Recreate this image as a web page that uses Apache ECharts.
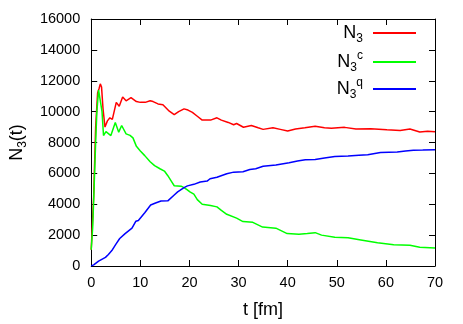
<!DOCTYPE html>
<html>
<head>
<meta charset="utf-8">
<script src="https://cdn.jsdelivr.net/npm/echarts@6/dist/echarts.min.js"></script>
<style>
html,body{margin:0;padding:0;background:#fff;}
#c{width:463px;height:324px;}
</style>
</head>
<body>
<div id="c"></div>
<script>
// ---- data ----
const tRed = [0,0.5,0.9,1.3,1.6,1.85,2.1,2.4,2.8,3.3,3.8,4.3,5.1,5.7,6.4,7.1,8.1,9.2,10,11,12,12.6,13.6,14.6,15.9,16.9,17.8,18.9,19.7,20.6,21.6,22.6,24.3,25.6,26.5,27.9,29,29.6,31,32.6,34,35,37,38.5,40,41.6,43.5,45.6,47.5,48.9,51.6,53.9,56.9,60.2,62.9,64.9,66.9,68.5,70];
const nRed = [1050,4500,9000,11200,11500,11800,11600,10200,9000,9400,9600,9500,10600,10350,10950,10700,10900,10650,10600,10600,10700,10650,10500,10450,10030,9800,10000,10180,10100,9950,9700,9450,9450,9600,9450,9300,9150,9230,8990,9100,8950,8850,8950,8850,8740,8880,8950,9050,8950,8920,8980,8880,8890,8820,8780,8880,8680,8730,8700];

const tGreen = [0,0.3,0.6,0.9,1.15,1.5,1.9,2.2,2.5,3.0,3.4,4.0,4.9,5.6,6.2,7.1,7.9,8.5,9.2,10,10.9,12,12.9,14,14.9,15.6,16.3,16.9,18.3,18.9,19.5,20.1,20.9,21.6,22.6,24.3,25.6,26.5,27.6,29.6,30.9,32.9,34.9,37.6,39.9,42.3,44,45.6,46.9,49.6,52.3,54.9,58.3,61.6,64.9,66.9,70];
const nGreen = [1050,2500,5200,8000,10000,11400,11300,10000,8450,8700,8800,8450,9300,8670,9100,8560,8460,8300,7750,7450,7150,6750,6500,6300,6150,5850,5500,5200,5170,5080,4950,4800,4650,4300,4000,3920,3830,3600,3350,3100,2880,2830,2520,2450,2100,2060,2100,2160,2000,1860,1830,1690,1500,1370,1350,1220,1160];

const tBlue = [0,0.5,1.5,2.9,3.5,4.2,5.0,5.8,6.9,8.3,9.1,9.6,10.9,12.1,13.1,14.2,15.6,16.9,17.6,18.9,19.6,20.9,22.2,23.6,24.2,25.6,27.6,29,30.9,32.3,33.5,35,37.6,40.3,42,43.6,45.6,47.5,49.6,52.3,54.5,56.3,58.9,62.3,64,65.6,67.5,70];
const nBlue = [0,70,320,560,750,1000,1400,1780,2100,2450,2900,2950,3450,3950,4080,4210,4220,4600,4800,5080,5190,5290,5440,5500,5650,5750,5980,6080,6110,6250,6300,6460,6540,6690,6800,6880,6900,7000,7100,7130,7180,7210,7350,7380,7450,7500,7510,7530];

const seriesNames = ['N3', 'N3c', 'N3q'];
const seriesLabels = ['{n|N}{sub|3}', '{n|N}{sub|3}{sup|c}', '{n|N}{sub|3}{sup|q}'];
const xTicks = {min: 0, max: 70, step: 10};
const yTicks = {min: 0, max: 16000, step: 2000};
const xName = 't [fm]';
const yName = '{n|N}{sub|3}{n|(t)}';

// ---- chart ----
const FONT = 'Liberation Sans';
const pairs = (t, v) => t.map((x, i) => [x, v[i]]);
const colors = ['#ff0000', '#00ff00', '#0000ff'];
const seriesData = [pairs(tRed, nRed), pairs(tGreen, nGreen), pairs(tBlue, nBlue)];

const richLegend = {
  n: {fontSize: 18, fontFamily: FONT, color: '#000', lineHeight: 24},
  sub: {fontSize: 12, fontFamily: FONT, color: '#000', verticalAlign: 'bottom', lineHeight: 12},
  sup: {fontSize: 12, fontFamily: FONT, color: '#000', verticalAlign: 'top', lineHeight: 12}
};

const legendCenters = [36, 62, 89];
const legends = seriesNames.map((nm, i) => ({
  data: [nm],
  orient: 'vertical',
  right: 47,
  top: legendCenters[i] - 12,
  padding: 0,
  align: 'right',
  icon: 'rect',
  itemWidth: 43,
  itemHeight: 2,
  selectedMode: false,
  formatter: () => seriesLabels[i],
  textStyle: {padding: [0, 5, 0, 0], rich: richLegend}
}));

const axisCommon = {
  axisLine: {show: true, onZero: false, lineStyle: {color: '#000', width: 1}},
  axisTick: {show: true, inside: true, length: 6, lineStyle: {color: '#000'}},
  splitLine: {show: false}
};
const plainNum = v => String(v);

const option = {
  animation: false,
  backgroundColor: '#fff',
  grid: {left: 85, right: 28, top: 19, bottom: 49, containLabel: false},
  legend: legends,
  xAxis: [
    Object.assign({
      type: 'value', min: xTicks.min, max: xTicks.max, interval: xTicks.step,
      position: 'bottom',
      name: xName, nameLocation: 'middle', nameGap: 35,
      nameTextStyle: {fontSize: 18, fontFamily: FONT, color: '#000'},
      axisLabel: {fontSize: 14.5, fontFamily: FONT, color: '#000', margin: 9, formatter: plainNum}
    }, axisCommon),
    Object.assign({
      type: 'value', min: xTicks.min, max: xTicks.max, interval: xTicks.step,
      position: 'top', axisLabel: {show: false}
    }, axisCommon)
  ],
  yAxis: [
    Object.assign({
      type: 'value', min: yTicks.min, max: yTicks.max, interval: yTicks.step,
      position: 'left',
      name: yName, nameLocation: 'middle', nameGap: 62, nameRotate: 90,
      nameTextStyle: {rich: richLegend},
      axisLabel: {fontSize: 14.5, fontFamily: FONT, color: '#000', margin: 11, formatter: plainNum}
    }, axisCommon),
    Object.assign({
      type: 'value', min: yTicks.min, max: yTicks.max, interval: yTicks.step,
      position: 'right', axisLabel: {show: false}
    }, axisCommon)
  ],
  series: seriesNames.map((nm, i) => ({
    name: nm,
    type: 'line',
    data: seriesData[i],
    xAxisIndex: 0,
    yAxisIndex: 0,
    showSymbol: false,
    symbol: 'none',
    color: colors[i],
    lineStyle: {color: colors[i], width: 1.5},
    itemStyle: {color: colors[i]}
  }))
};

const chart = echarts.init(document.getElementById('c'), null, {renderer: 'canvas'});
chart.setOption(option);
</script>
</body>
</html>
